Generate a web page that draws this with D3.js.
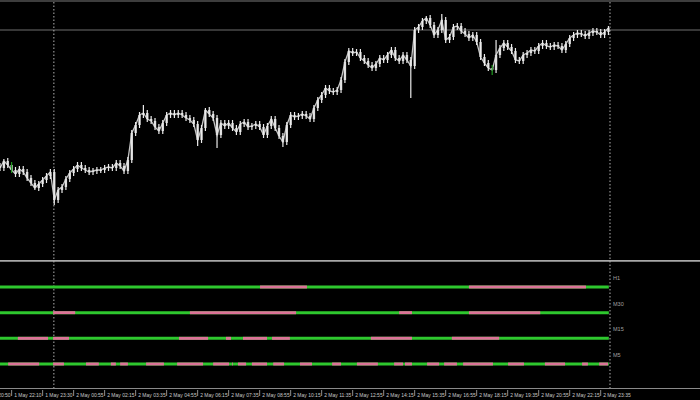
<!DOCTYPE html>
<html><head><meta charset="utf-8">
<script src="https://cdn.jsdelivr.net/npm/d3@7"></script>
<style>html,body{margin:0;padding:0;background:#000;}svg{display:block;}</style>
</head><body>
<script>
// ---- data ----
const closes = [92,99,95,90,86,91,88,82,77,72,76,80,84,88,60,70,73,81,87,91,
95,92,90,88,89,90,90,92,93,92,97,94,89,100,127,135,145,147,141,139,
133,129,137,145,147,145,147,145,142,140,136,120,132,150,146,142,125,137,134,137,
132,128,136,138,133,134,136,133,125,134,141,132,124,118,135,145,143,144,146,144,
141,152,160,165,172,169,168,170,180,198,209,207,208,202,199,195,192,196,202,200,
205,210,202,199,205,200,194,230,233,239,242,235,225,230,240,220,223,233,234,229,
226,222,225,218,203,197,192,190,205,212,217,213,209,200,199,205,207,210,209,214,
217,214,213,215,214,210,216,222,225,227,226,224,227,229,228,225,228,232];
const highOverrides = [[1,101],[37,155],[53,152],[101,213],[110,244],[114,246],[128,220],[157,234]];
const lowOverrides = [[14,55],[51,114],[56,112],[73,113],[106,162],[127,185],[9,70]];
const greenBars = [3,127];
const bidLevel = 230;
const periodSeparators = [13.9, 157.4];
const tickLabels = ["1 May 20:50","1 May 22:10","1 May 23:30","2 May 00:55","2 May 02:15","2 May 03:35",
"2 May 04:55","2 May 06:15","2 May 07:35","2 May 08:55","2 May 10:15","2 May 11:35","2 May 12:55",
"2 May 14:15","2 May 15:35","2 May 16:55","2 May 18:15","2 May 19:35","2 May 20:55","2 May 22:15","2 May 23:35"];
const tickIndex = [-5,3,11,19,27,35,43,51,59,67,75,83,91,99,107,115,123,131,139,147,155];
const timeframes = ["H1","M30","M15","M5"];
const pinkRuns = {
  "H1": [[67.1,79.2],[121,151.2]],
  "M30": [[13.7,19.4],[49,76.4],[103,106.3],[121,139.4]],
  "M15": [[4.6,12.4],[13.7,17.8],[46.2,53.7],[58.3,59.6],[62.7,68.9],[70.2,74.8],[95.7,106.3],[116.6,128.8]],
  "M5": [[2.1,10.1],[13.7,16.5],[22.2,25.5],[28.6,29.9],[31,33],[37.7,42.3],[45.7,52.4],[55,59.1],[59.9,60.1],
         [61.4,63.5],[65,68.9],[70.5,73.3],[77.4,80.5],[85.7,88],[92.1,97.5],[101.7,104],[104.5,106.3],
         [110.2,113.3],[114.6,117.9],[119.5,127.2],[131.1,135.2],[140.6,145.8],[150.2,151.7],[154.6,156.9]]
};
const lastIndex = 157.1;

// ---- chart ----
const W = 700, H = 400;
const svg = d3.select("body").append("svg").attr("width", W).attr("height", H)
  .style("background", "#000");

const x = d3.scaleLinear().domain([0, 157.4]).range([0, 610]);
const y = d3.scaleLinear().domain([0, 260]).range([260, 0]);
const rowY = d3.scalePoint().domain(timeframes).range([287, 364]);

// frame lines
svg.append("line").attr("x1",0).attr("x2",W).attr("y1",1).attr("y2",1).attr("stroke","#7a7a7a").attr("stroke-width",1.2);
svg.append("line").attr("x1",0).attr("x2",W).attr("y1",y(bidLevel)).attr("y2",y(bidLevel)).attr("stroke","#6e6e6e").attr("stroke-width",1);
svg.append("line").attr("x1",0).attr("x2",W).attr("y1",260.8).attr("y2",260.8).attr("stroke","#a8a8a8").attr("stroke-width",1.8);
svg.append("line").attr("x1",0).attr("x2",W).attr("y1",388.5).attr("y2",388.5).attr("stroke","#8a8a8a").attr("stroke-width",1);

// period separators
periodSeparators.forEach(p => {
  svg.append("line").attr("x1",x(p)).attr("x2",x(p)).attr("y1",2).attr("y2",388)
    .attr("stroke","#b0b0b0").attr("stroke-width",1).attr("stroke-dasharray","1.5,2");
});

// bars
const bars = closes.map((c,i) => {
  const o = i === 0 ? c + 2 : closes[i-1];
  let hi = Math.max(o,c) + 3, lo = Math.min(o,c) - 3;
  highOverrides.forEach(([k,v]) => { if (k === i) hi = v; });
  lowOverrides.forEach(([k,v]) => { if (k === i) lo = v; });
  return {i, o, c, hi, lo, green: greenBars.includes(i)};
});
const g = svg.append("g");
g.append("path").datum(bars)
  .attr("d", d3.line().x(d => x(d.i)).y(d => y(d.c)))
  .attr("fill","none").attr("stroke","#c4c4c4").attr("stroke-width",1.3);
g.selectAll("rect.body").data(bars).enter().append("rect")
  .attr("x", d => x(d.i) - 1.2).attr("width", 2.4)
  .attr("y", d => y(Math.max(d.o, d.c)))
  .attr("height", d => Math.max(1, Math.abs(y(d.o) - y(d.c))))
  .attr("fill", "#d0d0d0");
g.selectAll("line.bar").data(bars).enter().append("line")
  .attr("x1", d => x(d.i)).attr("x2", d => x(d.i))
  .attr("y1", d => y(d.hi)).attr("y2", d => y(d.lo))
  .attr("stroke", d => d.green ? "#1f9a1f" : "#ececec").attr("stroke-width",1.2);

// indicator rows
timeframes.forEach(tf => {
  const yy = rowY(tf);
  svg.append("line").attr("x1", x(0)).attr("x2", x(lastIndex)).attr("y1", yy).attr("y2", yy)
    .attr("stroke", "#2ec72e").attr("stroke-width", 3);
  svg.selectAll(null).data(pinkRuns[tf]).enter().append("line")
    .attr("x1", d => x(d[0])).attr("x2", d => x(d[1]))
    .attr("y1", yy).attr("y2", yy)
    .attr("stroke", "#dc7398").attr("stroke-width", 3);
  svg.append("text").attr("x", 613).attr("y", yy - 7)
    .attr("fill", "#a0a0a0").attr("font-family", "Liberation Sans, Arial, sans-serif")
    .attr("font-size", 5.5).text(tf);
});

// x axis ticks and labels
tickLabels.forEach((lab, k) => {
  const tx = x(tickIndex[k]);
  svg.append("line").attr("x1", tx).attr("x2", tx).attr("y1", 390).attr("y2", 396)
    .attr("stroke", "#b0b0b0").attr("stroke-width", 0.8);
  svg.append("text").attr("x", tx + 2.5).attr("y", 396.5)
    .attr("fill", "#c8c8c8").attr("font-family", "Liberation Sans, Arial, sans-serif")
    .attr("font-size", 5).text(lab);
});
</script>
</body></html>
